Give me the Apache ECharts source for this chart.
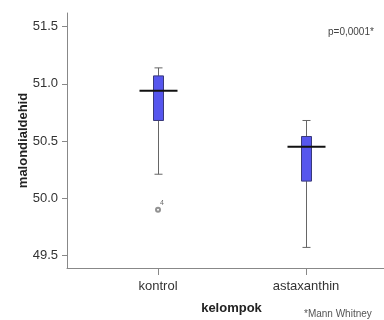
<!DOCTYPE html>
<html>
<head>
<meta charset="utf-8">
<script src="https://cdn.jsdelivr.net/npm/echarts@6/dist/echarts.min.js"></script>
<style>
  html, body { margin: 0; padding: 0; background: #fff; }
  #chart { width: 384px; height: 320px; }
</style>
</head>
<body>
<div id="chart"></div>
<script>
// kelompok
const categories = ['kontrol', 'astaxanthin'];
// [bawah, Q1, median, Q3, atas]
const boxValues = [
  [50.21, 50.68, 50.94, 51.07, 51.14],
  [49.57, 50.15, 50.45, 50.54, 50.68]
];
// outlier: [kelompok, nilai, label]
const outliers = [[0, 49.90, '4']];
const yTicks = [49.5, 50.0, 50.5, 51.0, 51.5];

const myChart = echarts.init(document.getElementById('chart'), null, { renderer: 'canvas' });

const font = 'Liberation Sans, Arial, sans-serif';

const option = {
  animation: false,
  backgroundColor: '#ffffff',
  grid: { left: 67, right: 0, top: 13, bottom: 48 },
  xAxis: {
    type: 'value',
    min: -0.615,
    max: 1.527,
    name: 'kelompok',
    nameLocation: 'middle',
    nameGap: 34,
    nameMoveOverlap: false,
    nameTextStyle: { fontFamily: font, fontSize: 13, fontWeight: 'bold', color: '#222', padding: [0, 0, 0, 12] },
    axisLine: { onZero: false, lineStyle: { color: '#888', width: 1 } },
    axisTick: { show: true, length: 7, customValues: [0, 1], lineStyle: { color: '#888' } },
    axisLabel: {
      customValues: [0, 1],
      margin: 12,
      fontFamily: font,
      fontSize: 13,
      color: '#333',
      formatter: v => categories[Math.round(v)]
    },
    splitLine: { show: false }
  },
  yAxis: {
    type: 'value',
    min: 49.39,
    max: 51.62,
    name: 'malondialdehid',
    nameLocation: 'middle',
    nameGap: 37,
    nameMoveOverlap: false,
    nameTextStyle: { fontFamily: font, fontSize: 13, fontWeight: 'bold', color: '#222' },
    axisLine: { show: true, onZero: false, lineStyle: { color: '#888', width: 1 } },
    axisTick: { show: true, length: 5, customValues: yTicks, lineStyle: { color: '#888' } },
    axisLabel: {
      customValues: yTicks,
      margin: 9,
      fontFamily: font,
      fontSize: 13,
      color: '#333',
      formatter: v => v.toFixed(1)
    },
    splitLine: { show: false }
  },
  series: [
    {
      type: 'custom',
      data: boxValues.map((b, i) => [i].concat(b)),
      encode: { x: 0, y: [1, 2, 3, 4, 5] },
      renderItem: (params, api) => {
        const x = api.value(0);
        const low = api.coord([x, api.value(1)]);
        const q1 = api.coord([x, api.value(2)]);
        const med = api.coord([x, api.value(3)]);
        const q3 = api.coord([x, api.value(4)]);
        const high = api.coord([x, api.value(5)]);
        const cx = Math.round(low[0]) + 0.5;
        const bw = 5, cw = 4, mw = 19;
        const wStyle = { stroke: '#666', lineWidth: 1 };
        return {
          type: 'group',
          children: [
            { type: 'line', shape: { x1: cx, y1: high[1], x2: cx, y2: q3[1] }, style: wStyle },
            { type: 'line', shape: { x1: cx, y1: q1[1], x2: cx, y2: low[1] }, style: wStyle },
            { type: 'line', shape: { x1: cx - cw, y1: high[1], x2: cx + cw, y2: high[1] }, style: wStyle },
            { type: 'line', shape: { x1: cx - cw, y1: low[1], x2: cx + cw, y2: low[1] }, style: wStyle },
            {
              type: 'rect',
              shape: { x: cx - bw, y: q3[1], width: bw * 2, height: q1[1] - q3[1] },
              style: { fill: '#5656ee', stroke: '#3a3a7a', lineWidth: 1 }
            },
            {
              type: 'line',
              shape: { x1: cx - mw, y1: med[1], x2: cx + mw, y2: med[1] },
              style: { stroke: '#111', lineWidth: 2 }
            }
          ]
        };
      }
    },
    {
      type: 'scatter',
      data: outliers.map(o => [o[0], o[1], o[2]]),
      symbol: 'emptyCircle',
      symbolSize: 4,
      itemStyle: { color: '#777', borderColor: '#777', borderWidth: 1 },
      label: {
        show: true,
        position: [5, -7],
        formatter: p => p.data[2],
        fontFamily: font,
        fontSize: 7,
        color: '#444'
      }
    }
  ],
  graphic: [
    {
      type: 'text',
      left: 328,
      top: 27,
      style: { text: 'p=0,0001*', font: '10px ' + font, fill: '#444' }
    },
    {
      type: 'text',
      left: 304,
      top: 309,
      style: { text: '*Mann Whitney', font: '10px ' + font, fill: '#555' }
    }
  ]
};

myChart.setOption(option);
</script>
</body>
</html>
